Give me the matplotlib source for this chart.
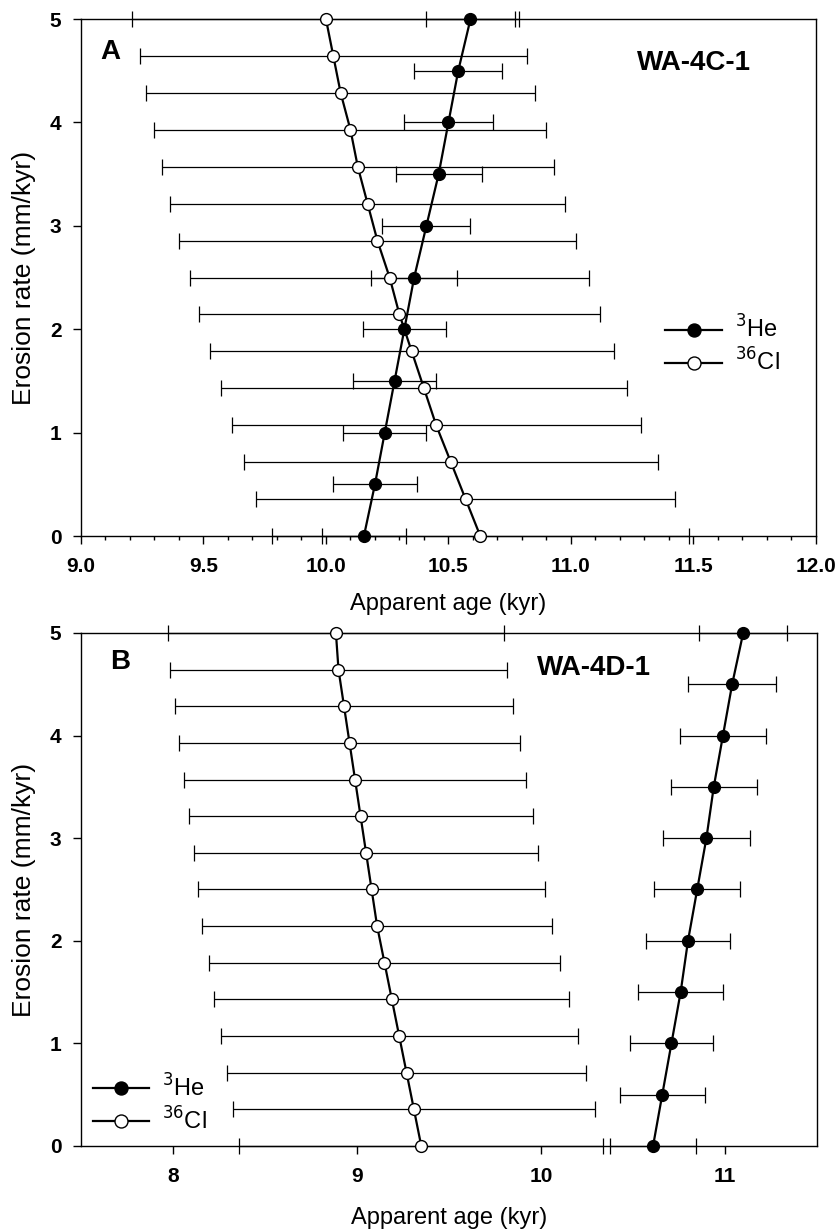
import numpy as np
import matplotlib
matplotlib.use("Agg")
import matplotlib.pyplot as plt
from matplotlib.ticker import MultipleLocator

plt.rcParams['font.family'] = ['Liberation Sans', 'DejaVu Sans']

# erosion rates (mm/kyr)
he_rate = [0, 0.5, 1.0, 1.5, 2.0, 2.5, 3.0, 3.5, 4.0, 4.5, 5.0]
cl_rate = [0, 0.357, 0.714, 1.071, 1.429, 1.786, 2.143, 2.5,
           2.857, 3.214, 3.571, 3.929, 4.286, 4.643, 5.0]

# panel A, WA-4C-1 (kyr)
a_he_age = [10.155, 10.20, 10.24, 10.28, 10.32, 10.36, 10.41, 10.46, 10.50, 10.54, 10.59]
a_he_err = [0.17, 0.17, 0.17, 0.17, 0.17, 0.175, 0.18, 0.175, 0.18, 0.18, 0.18]
a_cl_age = [10.63, 10.57, 10.51, 10.45, 10.40, 10.35, 10.30, 10.26,
            10.21, 10.17, 10.13, 10.10, 10.06, 10.03, 10.00]
a_cl_err = [0.85, 0.855, 0.845, 0.835, 0.83, 0.825, 0.82, 0.815,
            0.81, 0.805, 0.80, 0.80, 0.795, 0.79, 0.79]

# panel B, WA-4D-1 (kyr)
b_he_age = [10.61, 10.66, 10.71, 10.76, 10.80, 10.85, 10.90, 10.94, 10.99, 11.04, 11.10]
b_he_err = [0.235, 0.23, 0.225, 0.23, 0.23, 0.235, 0.235, 0.235, 0.235, 0.24, 0.24]
b_cl_age = [9.35, 9.31, 9.27, 9.23, 9.19, 9.15, 9.11, 9.08,
            9.05, 9.02, 8.99, 8.96, 8.93, 8.90, 8.886]
b_cl_err = [0.99, 0.985, 0.975, 0.97, 0.965, 0.955, 0.95, 0.945,
            0.935, 0.935, 0.93, 0.925, 0.92, 0.915, 0.913]

fig = plt.figure(figsize=(8.39, 12.30), dpi=100)
axA = fig.add_axes([0.0965, 0.5642, 0.876, 0.4203])
axB = fig.add_axes([0.0965, 0.0683, 0.877, 0.4171])


def draw(ax, he_age, he_err, cl_age, cl_err):
    eb = dict(fmt='none', ecolor='black', elinewidth=0.9, capsize=5.5, capthick=0.9, clip_on=False)
    ax.errorbar(cl_age, cl_rate, xerr=cl_err, zorder=2, **eb)
    ax.errorbar(he_age, he_rate, xerr=he_err, zorder=2, **eb)
    ax.plot(he_age, he_rate, '-o', color='black', lw=1.6, ms=8.5, mfc='black',
            mec='black', mew=1.0, zorder=4, clip_on=False, label='$^3$He')
    ax.plot(cl_age, cl_rate, '-o', color='black', lw=1.6, ms=8.5, mfc='white',
            mec='black', mew=1.0, zorder=4, clip_on=False, label='$^{36}$Cl')
    ax.set_ylim(0, 5)
    ax.set_yticks([0, 1, 2, 3, 4, 5])
    ax.set_yticklabels(['0', '1', '2', '3', '4', '5'], fontsize=15, fontweight='bold')
    ax.set_ylabel('Erosion rate (mm/kyr)', fontsize=19, labelpad=10)
    ax.tick_params(axis='both', direction='out', length=6, width=1)
    ax.tick_params(axis='y', pad=8)
    ax.tick_params(axis='x', pad=9)
    for sp in ax.spines.values():
        sp.set_linewidth(1.0)


draw(axA, a_he_age, a_he_err, a_cl_age, a_cl_err)
axA.set_xlim(9.0, 12.0)
axA.set_xticks([9.0, 9.5, 10.0, 10.5, 11.0, 11.5, 12.0])
axA.set_xticklabels(['9.0', '9.5', '10.0', '10.5', '11.0', '11.5', '12.0'],
                    fontsize=15, fontweight='bold')
axA.xaxis.set_minor_locator(MultipleLocator(0.1))
axA.tick_params(axis='x', which='minor', direction='out', length=3, width=1)
axA.set_xlabel('Apparent age (kyr)', fontsize=17, labelpad=12)
axA.text(0.026, 0.936, 'A', transform=axA.transAxes, fontsize=20, fontweight='bold',
         va='center', ha='left')
axA.text(0.756, 0.915, 'WA-4C-1', transform=axA.transAxes, fontsize=20, fontweight='bold',
         va='center', ha='left')
axA.legend(loc='center left', bbox_to_anchor=(0.795, 0.368), frameon=False, fontsize=17,
           handlelength=2.4, handletextpad=0.55, labelspacing=0.25, borderaxespad=0,
           borderpad=0, markerscale=1.1)

draw(axB, b_he_age, b_he_err, b_cl_age, b_cl_err)
axB.set_xlim(7.5, 11.5)
axB.set_xticks([8, 9, 10, 11])
axB.set_xticklabels(['8', '9', '10', '11'], fontsize=15, fontweight='bold')
axB.set_xlabel('Apparent age (kyr)', fontsize=17, labelpad=15)
axB.text(0.039, 0.943, 'B', transform=axB.transAxes, fontsize=20, fontweight='bold',
         va='center', ha='left')
axB.text(0.62, 0.932, 'WA-4D-1', transform=axB.transAxes, fontsize=20, fontweight='bold',
         va='center', ha='left')
axB.legend(loc='center left', bbox_to_anchor=(0.016, 0.081), frameon=False, fontsize=17,
           handlelength=2.4, handletextpad=0.55, labelspacing=0.25, borderaxespad=0,
           borderpad=0, markerscale=1.1)

fig.savefig('out.png', dpi=100)
